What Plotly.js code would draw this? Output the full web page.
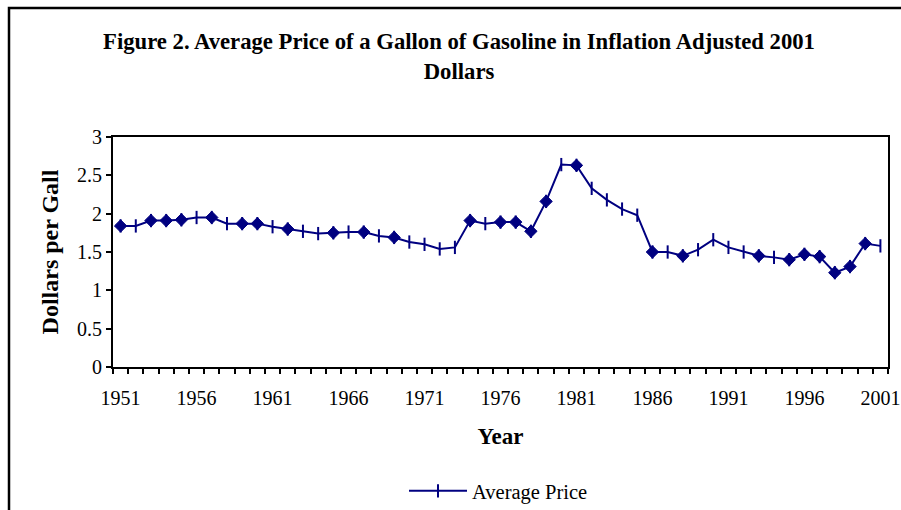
<!DOCTYPE html>
<html>
<head>
<meta charset="utf-8">
<script src="https://cdn.plot.ly/plotly-3.0.1.min.js"></script>
<style>
  html, body { margin: 0; padding: 0; background: #ffffff; }
  #chart { width: 901px; height: 510px; }
</style>
</head>
<body>
<div id="chart"></div>
<script>
const years = [
  1951, 1952, 1953, 1954, 1955, 1956, 1957, 1958, 1959, 1960,
  1961, 1962, 1963, 1964, 1965, 1966, 1967, 1968, 1969, 1970,
  1971, 1972, 1973, 1974, 1975, 1976, 1977, 1978, 1979, 1980,
  1981, 1982, 1983, 1984, 1985, 1986, 1987, 1988, 1989, 1990,
  1991, 1992, 1993, 1994, 1995, 1996, 1997, 1998, 1999, 2000,
  2001
];
const averagePrice = [
  1.84, 1.84, 1.91, 1.91, 1.92, 1.95, 1.95, 1.87, 1.87, 1.87,
  1.83, 1.80, 1.77, 1.74, 1.75, 1.76, 1.76, 1.71, 1.69, 1.63,
  1.60, 1.54, 1.56, 1.91, 1.87, 1.89, 1.89, 1.77, 2.16, 2.64,
  2.63, 2.33, 2.18, 2.06, 1.98, 1.50, 1.50, 1.45, 1.53, 1.66,
  1.56, 1.50, 1.45, 1.43, 1.40, 1.47, 1.44, 1.23, 1.31, 1.61,
  1.58
];
// years drawn with a diamond marker in the reference
const diamondYears = [
  1951, 1953, 1954, 1955, 1957, 1959, 1960, 1962, 1965, 1967,
  1969, 1974, 1976, 1977, 1978, 1979, 1981, 1986, 1988, 1993,
  1995, 1996, 1997, 1998, 1999, 2000
];
const xTickLabels = ['1951', '1956', '1961', '1966', '1971', '1976', '1981', '1986', '1991', '1996', '2001'];
const seriesName = 'Average Price';

const diamondPrices = diamondYears.map(y => averagePrice[years.indexOf(y)]);
const navy = '#000080';
const serif = '"Liberation Serif", "Times New Roman", Times, serif';

const traces = [
  {
    type: 'scatter',
    mode: 'lines+markers',
    name: seriesName,
    x: years,
    y: averagePrice,
    line: { color: navy, width: 2 },
    marker: { symbol: 'line-ns', size: 9.5, color: navy, line: { color: navy, width: 2 } },
    hoverinfo: 'x+y'
  },
  {
    type: 'scatter',
    mode: 'markers',
    name: seriesName,
    showlegend: false,
    x: diamondYears,
    y: diamondPrices,
    marker: { symbol: 'diamond', size: 9.5, color: navy, line: { color: navy, width: 1 } },
    hoverinfo: 'x+y'
  }
];

const L = 113, R = 888, T = 137, B = 367;
const px2x = p => (p - L) / (R - L);
const py2y = p => (B - p) / (B - T);

const layout = {
  width: 901,
  height: 510,
  margin: { l: L, r: 901 - R, t: T, b: 510 - B, pad: 0, autoexpand: false },
  paper_bgcolor: '#ffffff',
  plot_bgcolor: '#ffffff',
  font: { family: serif, color: '#000000', size: 19 },
  title: {
    text: '<b>Figure 2. Average Price of a Gallon of Gasoline in Inflation Adjusted 2001<br>Dollars</b>',
    font: { family: serif, size: 22.7, color: '#000000' },
    xref: 'container', yref: 'container',
    x: 459 / 901, xanchor: 'center',
    y: 1 - 49 / 510, yanchor: 'middle'
  },
  xaxis: {
    type: 'linear',
    range: [1950.5, 2001.5],
    tickmode: 'array',
    tickvals: xTickLabels.map(Number),
    ticktext: xTickLabels,
    ticks: 'outside',
    ticklen: 5,
    tickcolor: 'rgba(0,0,0,0)',
    ticklabelstandoff: 7,
    tickfont: { family: serif, size: 20, color: '#000000' },
    minor: { tickmode: 'linear', tick0: 1950.5, dtick: 1, ticks: 'outside', ticklen: 5, tickwidth: 2, tickcolor: '#000000', showgrid: false },
    showline: true, linecolor: '#000000', linewidth: 2, mirror: true,
    showgrid: false, zeroline: false, automargin: false,
    title: { text: '<b>Year</b>', font: { family: serif, size: 23, color: '#000000' }, standoff: 20 },
    fixedrange: true
  },
  yaxis: {
    range: [0, 3],
    tickmode: 'linear', tick0: 0, dtick: 0.5,
    ticks: 'outside', ticklen: 5, tickwidth: 2, tickcolor: '#000000',
    tickfont: { family: serif, size: 20, color: '#000000' },
    showline: true, linecolor: '#000000', linewidth: 2, mirror: true,
    showgrid: false, zeroline: false, automargin: false,
    title: { text: '<b>Dollars per Gall</b>', font: { family: serif, size: 24, color: '#000000' }, standoff: 12 },
    fixedrange: true
  },
  showlegend: true,
  legend: {
    orientation: 'h',
    x: px2x(404), xanchor: 'left',
    y: py2y(491), yanchor: 'middle',
    font: { family: serif, size: 20.5, color: '#000000' },
    itemwidth: 58,
    bgcolor: 'rgba(0,0,0,0)',
    borderwidth: 0
  },
  shapes: [
    {
      type: 'path', xref: 'paper', yref: 'paper',
      path: `M ${px2x(9)},${py2y(515)} L ${px2x(9)},${py2y(8)} L ${px2x(905)},${py2y(8)}`,
      line: { color: '#000000', width: 2.5 },
      layer: 'above'
    }
  ]
};

Plotly.newPlot('chart', traces, layout, { displayModeBar: false, staticPlot: true });
</script>
</body>
</html>
